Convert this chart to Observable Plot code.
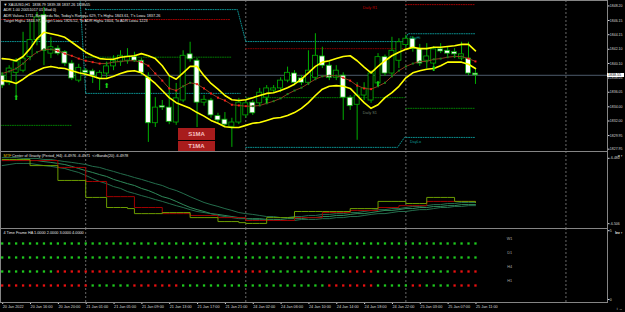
<!DOCTYPE html>
<html><head><meta charset="utf-8">
<script src="https://cdn.jsdelivr.net/npm/d3@7"></script>
<script src="https://cdn.jsdelivr.net/npm/@observablehq/plot@0.6"></script>
<style>
html,body{margin:0;padding:0;background:#000;}
#wrap{position:relative;width:625px;height:312px;background:#000;overflow:hidden;font-family:"Liberation Sans",Arial,sans-serif;}
#wrap svg{position:absolute;left:0;}
.box{position:absolute;background:#a81c1c;color:#f6c0c0;font-weight:bold;font-size:6px;text-align:center;font-family:"Liberation Sans",Arial,sans-serif;}
.price{position:absolute;background:#fff;color:#000;font-size:3.6px;line-height:4.6px;padding-left:1px;font-family:"Liberation Sans",Arial,sans-serif;}
</style></head><body><div id="wrap"></div>
<script>
// ---------- DATA ----------
const timeLabels = ["20 Jan 2022","20 Jan 16:00","20 Jan 20:00","21 Jan 01:00","21 Jan 05:00","21 Jan 09:00","21 Jan 13:00","21 Jan 17:00","21 Jan 21:00","24 Jan 02:00","24 Jan 06:00","24 Jan 10:00","24 Jan 14:00","24 Jan 18:00","24 Jan 22:00","25 Jan 03:00","25 Jan 07:00","25 Jan 11:00"];
const daySeparators = [12, 35, 58, 81];

const open = [1838.5,1837.5,1838.9,1839.2,1841.1,1843.5,1847.0,1841.6,1842.3,1841.8,
1840.2,1837.8,1839.2,1839.1,1838.1,1838.8,1839.8,1840.4,1840.6,1841.1,
1840.6,1838.2,1831.8,1834.2,1834.0,1831.9,1835.0,1841.5,1840.6,1834.7,
1835.0,1832.8,1832.3,1831.3,1831.9,1832.9,1834.7,1834.6,1835.4,1836.4,
1836.7,1837.8,1838.8,1838.1,1837.5,1838.2,1841.2,1839.9,1838.2,1838.5,
1835.4,1834.4,1835.7,1835.0,1837.4,1841.1,1838.8,1840.6,1842.8,1843.7,
1842.2,1840.6,1840.2,1842.2,1842.0,1841.8,1840.9,1840.9,1838.79];
const high = [1838.9,1839.9,1840.9,1844.6,1846.0,1847.4,1848.1,1843.9,1842.7,1842.0,
1840.6,1840.1,1839.5,1839.4,1839.2,1840.4,1841.3,1842.0,1842.3,1841.8,
1840.9,1838.9,1835.4,1835.0,1838.5,1837.4,1842.0,1843.2,1840.9,1835.7,
1835.3,1833.2,1833.3,1832.5,1835.3,1835.0,1835.0,1836.7,1837.1,1837.1,
1838.2,1839.7,1839.2,1838.5,1842.0,1844.4,1842.5,1840.4,1839.9,1838.9,
1835.7,1837.5,1837.5,1839.2,1841.6,1841.4,1843.9,1843.7,1844.2,1844.0,
1842.9,1843.0,1842.6,1843.0,1842.5,1842.3,1843.2,1843.2,1839.38];
const low = [1836.7,1837.1,1835.7,1838.9,1840.6,1842.7,1839.9,1840.9,1841.3,1839.8,
1837.8,1837.5,1838.4,1837.4,1836.4,1838.1,1839.2,1839.8,1840.1,1840.4,
1838.5,1829.1,1831.2,1833.6,1831.6,1831.5,1834.7,1840.4,1831.2,1834.2,
1832.5,1831.8,1831.3,1828.4,1831.6,1832.5,1832.9,1834.2,1835.0,1836.0,
1836.1,1837.5,1837.1,1837.1,1837.1,1837.8,1839.5,1837.8,1837.8,1832.2,
1833.6,1829.4,1835.0,1834.6,1837.0,1838.4,1838.4,1839.5,1842.3,1841.8,
1839.8,1839.5,1839.8,1841.6,1841.2,1840.9,1840.6,1838.5,1837.26];
const close = [1837.1,1839.5,1840.4,1840.9,1843.5,1846.7,1842.0,1842.5,1841.6,1840.2,
1838.1,1839.6,1838.9,1838.5,1838.9,1839.8,1840.6,1841.3,1841.2,1840.6,
1838.9,1831.8,1834.0,1834.0,1832.0,1835.3,1841.3,1840.8,1834.7,1835.1,
1832.9,1832.2,1831.6,1831.9,1834.7,1834.6,1833.2,1836.1,1836.7,1836.7,
1837.8,1838.9,1837.5,1837.5,1839.2,1841.3,1839.9,1838.2,1839.2,1835.4,
1834.2,1835.7,1836.7,1838.8,1841.1,1838.8,1842.0,1843.2,1843.7,1842.3,
1840.2,1841.2,1842.2,1841.9,1841.6,1841.5,1841.5,1838.8,1838.55];

const upperBand = [1840.9,1840.8,1840.6,1841.2,1842.3,1843.7,1844.6,1844.4,1844.2,1843.9,
1843.2,1842.5,1841.8,1841.3,1840.9,1840.8,1840.8,1841.1,1841.2,1841.3,
1841.6,1841.3,1840.9,1839.9,1838.5,1838.0,1838.9,1839.8,1839.8,1838.5,
1837.4,1836.6,1835.7,1835.1,1835.0,1835.1,1835.4,1835.7,1836.0,1836.1,
1836.4,1836.8,1837.3,1838.0,1838.9,1839.8,1840.4,1840.6,1840.9,1841.2,
1841.3,1840.6,1839.7,1838.9,1839.8,1840.6,1841.3,1841.8,1842.2,1842.5,
1842.3,1842.3,1842.5,1842.5,1842.6,1842.7,1842.9,1842.9,1842.0];
const lowerBand = [1837.8,1837.7,1837.4,1838.0,1838.7,1839.2,1839.6,1839.8,1839.6,1839.5,
1839.2,1838.9,1838.7,1838.4,1838.1,1838.1,1838.4,1838.8,1839.1,1839.2,
1838.9,1838.2,1837.4,1836.4,1835.4,1834.7,1834.3,1833.9,1833.3,1832.8,
1832.2,1831.8,1831.3,1831.2,1831.2,1831.5,1831.8,1831.9,1832.2,1832.5,
1832.6,1832.9,1833.3,1833.9,1834.7,1835.7,1836.6,1837.0,1837.1,1837.0,
1836.7,1835.7,1834.7,1833.9,1834.4,1835.4,1836.1,1837.0,1838.2,1838.9,
1839.2,1839.4,1839.5,1839.9,1840.4,1840.4,1840.4,1840.1,1839.5];
const midLine = [1838.8,1839.1,1839.5,1840.2,1841.1,1841.8,1842.2,1842.2,1842.0,1841.6,
1841.3,1840.9,1840.6,1840.4,1840.2,1840.2,1840.4,1840.5,1840.6,1840.6,
1840.4,1839.9,1838.8,1837.8,1836.7,1836.4,1837.0,1837.5,1837.3,1836.7,
1836.0,1835.4,1835.0,1834.4,1834.3,1834.2,1834.2,1834.3,1834.6,1834.9,
1835.3,1835.9,1836.4,1836.8,1837.4,1838.0,1838.4,1838.5,1838.5,1838.2,
1837.8,1837.1,1836.7,1836.6,1837.0,1837.5,1838.4,1839.2,1839.8,1840.2,
1840.5,1840.5,1840.8,1840.9,1841.1,1841.2,1841.2,1840.9,1840.5];

const arrowBars = [2, 15, 38, 54, 62];
const arrowPrices = [1835.4, 1837.1, 1835.0, 1837.4, 1839.5];

const mainTicks = [1848.20,1846.15,1844.15,1842.10,1840.10,1838.05,1836.05,1834.00,1832.00,1829.95,1827.95];
const lastPrice = 1838.55;

// pivot / day range levels: [bar, price] polylines
const levelLines = [
  {color:"#0b9c9c", pts:[[-0.25,1843.3],[11,1843.3]]},
  {color:"#0b9c9c", pts:[[11.2,1849.1],[12,1836.0],[34.2,1836.0]]},
  {color:"#0b9c9c", pts:[[12,1847.8],[33.8,1847.8],[35,1843.3],[57.8,1843.3],[58.3,1844.4],[68,1844.4]]},
  {color:"#0b9c9c", pts:[[35,1828.4],[56.8,1828.4],[57.8,1829.8],[68,1829.8]]},
  {color:"#b00000", pts:[[-0.25,1846.4],[32.8,1846.4]]},
  {color:"#8a0000", pts:[[35,1842.3],[57.8,1842.3]]},
  {color:"#b00000", pts:[[58,1848.5],[68,1848.5]]},
  {color:"#008a00", pts:[[-0.25,1831.5],[10,1831.5]]},
  {color:"#008a00", pts:[[12,1841.1],[33,1841.1]]},
  {color:"#008a00", pts:[[35,1835.4],[57.8,1835.4]]},
  {color:"#008a00", pts:[[58,1833.9],[68,1833.9]]}
];
const levelLabels = [
  {text:"Daily R1", bar:51.8, price:1848.1, color:"#c00000"},
  {text:"Daily S1", bar:51.8, price:1833.3, color:"#6a7f6a"},
  {text:"DayHi", bar:58.6, price:1843.9, color:"#0b9c9c"},
  {text:"DayLo", bar:58.6, price:1829.2, color:"#0b9c9c"}
];
const infoLines = [
  "▼ XAUUSD,H1  1838.79 1839.38 1837.26 1838.55",
  "ADR 1.00 20051017 01 Mod 0)",
  "ADR Value= 1711, Reached= No, Today's Range= 629, T's High= 1843.61, T's Low= 1837.26",
  "Target High= 1844.97, Target Low= 1826.52, To ADR High= 1604, To ADR Low= 1223"
];

// Center of Gravity indicator
const cogTitle = " Center of Gravity (Period_H4) -6.4976 -6.4971  <>Bands(20) -6.4978";
const cogTicks = [-6.480, -6.506];
const cogOlive = [-6.4815,-6.4815,-6.4815,-6.4815,-6.4838,-6.4838,-6.4838,-6.4838,-6.4894,-6.4894,
-6.4894,-6.4894,-6.4958,-6.4958,-6.4958,-6.4996,-6.4996,-6.4996,-6.5000,-6.5019,
-6.5019,-6.5019,-6.5019,-6.5015,-6.5015,-6.5015,-6.5015,-6.5034,-6.5034,-6.5034,
-6.5034,-6.5049,-6.5049,-6.5049,-6.5053,-6.5056,-6.5056,-6.5056,-6.5034,-6.5034,
-6.5034,-6.5034,-6.5011,-6.5011,-6.5011,-6.5011,-6.5011,-6.5011,-6.5011,-6.5011,
-6.5000,-6.5000,-6.5000,-6.5000,-6.4973,-6.4973,-6.4973,-6.4973,-6.4981,-6.4981,
-6.4981,-6.4958,-6.4958,-6.4958,-6.4958,-6.4973,-6.4973,-6.4973,-6.4977];
const cogRed = [-6.4819,-6.4819,-6.4819,-6.4819,-6.4819,-6.4819,-6.4819,-6.4819,-6.4845,-6.4845,
-6.4845,-6.4845,-6.4898,-6.4898,-6.4898,-6.4955,-6.4955,-6.4955,-6.4955,-6.4996,
-6.4996,-6.4996,-6.4996,-6.5019,-6.5019,-6.5019,-6.5019,-6.5026,-6.5026,-6.5026,
-6.5026,-6.5034,-6.5034,-6.5034,-6.5034,-6.5045,-6.5045,-6.5045,-6.5045,-6.5045,
-6.5045,-6.5045,-6.5034,-6.5034,-6.5034,-6.5034,-6.5015,-6.5015,-6.5015,-6.5015,
-6.5007,-6.5007,-6.5007,-6.5007,-6.4996,-6.4996,-6.4996,-6.4989,-6.4989,-6.4989,
-6.4989,-6.4973,-6.4973,-6.4973,-6.4973,-6.4973,-6.4973,-6.4973,-6.4973];
const cogBand1 = [-6.4808,-6.4808,-6.4808,-6.4811,-6.4811,-6.4811,-6.4815,-6.4815,-6.4819,-6.4823,
-6.4826,-6.4830,-6.4834,-6.4841,-6.4845,-6.4853,-6.4860,-6.4868,-6.4875,-6.4883,
-6.4890,-6.4898,-6.4906,-6.4913,-6.4924,-6.4932,-6.4943,-6.4955,-6.4966,-6.4977,
-6.4985,-6.4992,-6.5000,-6.5007,-6.5015,-6.5019,-6.5022,-6.5026,-6.5030,-6.5030,
-6.5034,-6.5034,-6.5030,-6.5030,-6.5026,-6.5026,-6.5022,-6.5022,-6.5019,-6.5019,
-6.5015,-6.5015,-6.5011,-6.5007,-6.5004,-6.5004,-6.5000,-6.5000,-6.4996,-6.4992,
-6.4992,-6.4989,-6.4985,-6.4985,-6.4981,-6.4981,-6.4977,-6.4977,-6.4977];
const cogBand2 = [-6.4819,-6.4819,-6.4819,-6.4819,-6.4819,-6.4819,-6.4823,-6.4826,-6.4830,-6.4834,
-6.4841,-6.4849,-6.4857,-6.4864,-6.4872,-6.4879,-6.4890,-6.4898,-6.4906,-6.4913,
-6.4924,-6.4932,-6.4943,-6.4955,-6.4962,-6.4973,-6.4985,-6.4996,-6.5004,-6.5011,
-6.5019,-6.5022,-6.5026,-6.5030,-6.5034,-6.5038,-6.5038,-6.5038,-6.5041,-6.5041,
-6.5041,-6.5038,-6.5038,-6.5038,-6.5034,-6.5034,-6.5030,-6.5030,-6.5026,-6.5026,
-6.5022,-6.5019,-6.5019,-6.5015,-6.5011,-6.5007,-6.5007,-6.5004,-6.5000,-6.5000,
-6.4996,-6.4996,-6.4992,-6.4992,-6.4989,-6.4989,-6.4985,-6.4985,-6.4985];
const cogBand3 = [-6.4838,-6.4834,-6.4830,-6.4830,-6.4830,-6.4834,-6.4838,-6.4841,-6.4845,-6.4849,
-6.4857,-6.4864,-6.4875,-6.4887,-6.4898,-6.4906,-6.4917,-6.4924,-6.4936,-6.4943,
-6.4951,-6.4958,-6.4966,-6.4973,-6.4981,-6.4989,-6.4996,-6.5004,-6.5011,-6.5015,
-6.5019,-6.5026,-6.5030,-6.5034,-6.5038,-6.5038,-6.5041,-6.5041,-6.5041,-6.5045,
-6.5045,-6.5045,-6.5045,-6.5041,-6.5041,-6.5041,-6.5038,-6.5038,-6.5034,-6.5034,
-6.5030,-6.5030,-6.5026,-6.5022,-6.5019,-6.5019,-6.5015,-6.5011,-6.5011,-6.5007,
-6.5004,-6.5004,-6.5000,-6.4996,-6.4996,-6.4992,-6.4992,-6.4989,-6.4989];

// 4 Time Frame Heiken Ashi states (run lengths, G = up, R = down)
const haTitle = "4 Time Frame HA 1.0000 2.0000 3.0000 4.0000";
const haRows = ["W1","D1","H4","H1"];
const haLevels = [4, 3, 2, 1];
const haRuns = {
  W1: [["G",69]],
  D1: [["G",69]],
  H4: [["G",8],["R",30],["G",12],["R",4],["G",11],["R",4]],
  H1: [["R",13],["G",6],["R",7],["G",21],["R",7],["G",5],["R",2],["G",4],["R",4]]
};

// ---------- BUILD ----------
const W = 625, MR = 18, FS = 3.8, AFS = 3.5;
const xDom = [-0.244, 86.97];
const GRID = "#858585";
const bars = open.map((o,i)=>({i, o, h:high[i], l:low[i], c:close[i]}));
const series = arr => arr.map((v,i)=>({i, v}));
const baseStyle = {background:"#000", color:"#d8d8d8", fontFamily:"Liberation Sans, Arial, sans-serif", fontSize:FS+"px", overflow:"visible"};
const wrap = document.getElementById("wrap");

const midPts = series(midLine).map((d,k,a)=>({...d, up: k===0 ? true : d.v >= a[k-1].v}));

const main = Plot.plot({
  width: W, height: 151, marginTop: 0, marginBottom: 0, marginLeft: 0, marginRight: MR,
  style: baseStyle,
  x: {domain: xDom, axis: null},
  y: {domain: [1827.82, 1849.08], axis: null},
  marks: [
    Plot.ruleX(daySeparators, {stroke: GRID, strokeDasharray: "2,2", strokeWidth: 0.8}),
    ...levelLines.map(L => Plot.line(L.pts, {x: d=>d[0], y: d=>d[1], stroke: L.color, strokeDasharray: "1,1.4", strokeWidth: 0.9})),
    Plot.ruleY([lastPrice], {stroke: "#4d5b6b", strokeWidth: 1}),
    Plot.ruleX(bars, {x: "i", y1: "l", y2: "h", stroke: "#00b000", strokeWidth: 1}),
    Plot.rect(bars, {x1: d=>d.i-0.36, x2: d=>d.i+0.36, y1: "o", y2: "c",
      fill: d => d.c >= d.o ? "#000" : "#fff", stroke: "#00b000", strokeWidth: 0.8}),
    Plot.line(series(upperBand), {x: "i", y: "v", stroke: "#ffff00", strokeWidth: 1.6}),
    Plot.line(series(lowerBand), {x: "i", y: "v", stroke: "#ffff00", strokeWidth: 1.6}),
    Plot.line(midPts, {x: "i", y: "v", stroke: "#8e3b1e", strokeWidth: 1}),
    Plot.dot(midPts, {x: "i", y: "v", symbol: "square", r: 1.1, fill: d => d.up ? "#17861a" : "#ff1a1a", stroke: null}),
    Plot.text(arrowBars.map((b,k)=>({b, p: arrowPrices[k]})), {x: "b", y: "p", text: () => "⬆", fill: "#19d219", fontSize: 7, fontFamily: "DejaVu Sans"}),
    Plot.text(levelLabels, {x: "bar", y: "price", text: "text", fill: "color", textAnchor: "start", fontSize: FS}),
    Plot.text([infoLines.join("\n")], {text: d=>d, frameAnchor: "top-left", dx: 3, dy: 1.6, lineAnchor: "top", lineHeight: 1.4, textAnchor: "start", fill: "#e4e4e4", fontSize: FS}),
    Plot.axisY({anchor: "right", ticks: mainTicks.slice(0, -1), tickFormat: d => d.toFixed(2), tickSize: 1.5, tickPadding: 0.8, fontSize: AFS, dy: -0.8}),
    Plot.axisY({anchor: "right", ticks: mainTicks.slice(-1), tickFormat: d => d.toFixed(2), tickSize: 1.5, tickPadding: 0.8, fontSize: AFS, dy: -1.4}),
    Plot.frame({stroke: GRID})
  ]
});
main.style.top = "0px";
wrap.appendChild(main);

const ind = Plot.plot({
  width: W, height: 77, marginTop: 0, marginBottom: 0, marginLeft: 0, marginRight: MR,
  style: baseStyle,
  x: {domain: xDom, axis: null},
  y: {domain: [-6.50751, -6.47849], axis: null},
  marks: [
    Plot.ruleX(daySeparators, {stroke: GRID, strokeDasharray: "2,2", strokeWidth: 0.8}),
    Plot.line(series(cogBand1), {x: "i", y: "v", stroke: "#246d4c", strokeWidth: 1}),
    Plot.line(series(cogBand2), {x: "i", y: "v", stroke: "#2f8a5a", strokeWidth: 1}),
    Plot.line(series(cogBand3), {x: "i", y: "v", stroke: "#246d4c", strokeWidth: 1}),
    Plot.line(series(cogRed), {x: "i", y: "v", stroke: "#a00000", strokeWidth: 1, curve: "step-after"}),
    Plot.line(series(cogOlive), {x: "i", y: "v", stroke: "#6c9c00", strokeWidth: 1, curve: "step-after"}),
    Plot.text(["MTF"], {text: d=>d, frameAnchor: "top-left", dx: 3, dy: 3, lineAnchor: "top", textAnchor: "start", fill: "#e0c000", fontSize: FS}),
    Plot.text([cogTitle], {text: d=>d, frameAnchor: "top-left", dx: 10.5, dy: 3, lineAnchor: "top", textAnchor: "start", fill: "#e4e4e4", fontSize: FS}),
    Plot.axisY({anchor: "right", ticks: [cogTicks[0]], tickFormat: d => d.toFixed(3), tickSize: 1.5, tickPadding: 0.8, fontSize: AFS, dy: 2.8}),
    Plot.axisY({anchor: "right", ticks: [cogTicks[1]], tickFormat: d => d.toFixed(3), tickSize: 1.5, tickPadding: 0.8, fontSize: AFS, dy: -0.8}),
    Plot.frame({stroke: GRID})
  ]
});
ind.style.top = "151px";
wrap.appendChild(ind);

const cells = [];
haRows.forEach((row, r) => {
  let i = 0;
  haRuns[row].forEach(([s, n]) => { for (let k = 0; k < n; k++) cells.push({i: i++, row, lev: haLevels[r], s}); });
});
const timeTicks = timeLabels.map((_, k) => k * 4);

const ha = Plot.plot({
  width: W, height: 84, marginTop: 0, marginBottom: 10, marginLeft: 0, marginRight: MR,
  style: baseStyle,
  x: {domain: xDom, axis: null},
  y: {domain: [-0.214, 5.071], axis: null},
  marks: [
    Plot.ruleX(daySeparators, {stroke: GRID, strokeDasharray: "2,2", strokeWidth: 0.8}),
    Plot.dot(cells, {x: "i", y: "lev", symbol: "square", r: 1.3, fill: d => d.s === "G" ? "#1ec81e" : "#e81010", stroke: null}),
    Plot.text(haRows.map((t,k)=>({t, lev: haLevels[k]})), {x: () => 72.9, y: "lev", text: "t", dy: -4.5, fill: "#a8a8a8", fontSize: FS}),
    Plot.text([haTitle], {text: d=>d, frameAnchor: "top-left", dx: 3, dy: 2.5, lineAnchor: "top", textAnchor: "start", fill: "#e4e4e4", fontSize: FS}),
    Plot.axisY({anchor: "right", ticks: [5], tickFormat: d => String(d), tickSize: 1.5, tickPadding: 0.8, fontSize: AFS, dy: 1.2}),
    Plot.axisY({anchor: "right", ticks: [0], tickFormat: d => String(d), tickSize: 1.5, tickPadding: 0.8, fontSize: AFS}),
    Plot.axisX({anchor: "bottom", ticks: timeTicks, tickFormat: i => timeLabels[i / 4], tickSize: 2, tickPadding: 1, textAnchor: "start", dx: 0.5, fontSize: FS}),
    Plot.frame({stroke: GRID})
  ]
});
ha.style.top = "228px";
wrap.appendChild(ha);

// screen-anchored chart labels
const addDiv = (cls, txt, css) => { const d = document.createElement("div"); d.className = cls; d.textContent = txt; Object.assign(d.style, css); wrap.appendChild(d); };
addDiv("box", "S1MA", {left:"178px", top:"128px", width:"37px", height:"12px", lineHeight:"12px"});
addDiv("box", "T1MA", {left:"178px", top:"141px", width:"37px", height:"10px", lineHeight:"10px"});
addDiv("price", String(lastPrice.toFixed(2)), {left:"607px", top:"72.5px", width:"16px", height:"4.6px"});
</script></body></html>
